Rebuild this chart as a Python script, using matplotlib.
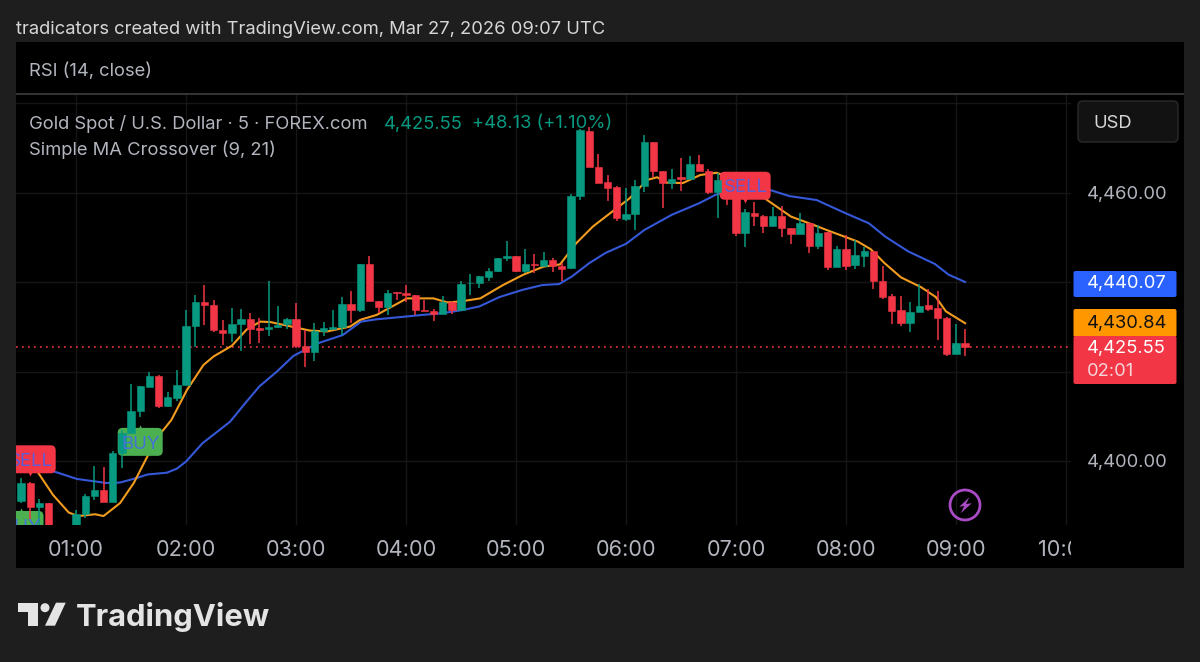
import numpy as np
import matplotlib
matplotlib.use("Agg")
import matplotlib.pyplot as plt
from matplotlib.patches import FancyBboxPatch, Rectangle, Circle, Polygon

plt.rcParams['font.family'] = ['Inter', 'DejaVu Sans']

# Candles, 5 minute bars from 00:30 to 09:05 (one row per hour)
opens = [4391.0, 4395.1, 4389.8, 4390.6, 4384.5, 4381.5,
         4384.0, 4388.2, 4392.1, 4393.6, 4390.9, 4401.8, 4406.3, 4411.1, 4416.6, 4419.1, 4412.4, 4414.2,
         4417.0, 4430.3, 4435.6, 4434.9, 4429.4, 4428.6, 4430.6, 4431.7, 4429.7, 4429.6, 4430.0, 4430.6,
         4431.8, 4425.8, 4424.5, 4429.1, 4429.5, 4430.1, 4435.1, 4433.7, 4444.1, 4435.8, 4434.4, 4437.8,
         4437.6, 4437.2, 4433.9, 4433.6, 4432.9, 4435.5, 4433.8, 4439.8, 4439.8, 4441.1, 4442.5, 4445.5,
         4445.9, 4442.6, 4444.1, 4443.7, 4444.9, 4443.7, 4443.2, 4459.2, 4473.9, 4465.8, 4462.4, 4461.4,
         4454.2, 4455.3, 4461.6, 4471.4, 4465.0, 4462.2, 4463.5, 4463.1, 4466.4, 4464.9, 4460.3, 4462.7,
         4459.1, 4451.1, 4455.6, 4454.9, 4452.5, 4454.9, 4452.2, 4450.7, 4453.2, 4448.2, 4451.2, 4443.4,
         4447.5, 4443.8, 4445.9, 4447.0, 4440.3, 4436.9, 4433.7, 4430.9, 4433.4, 4434.9, 4434.2, 4432.0,
         4423.9, 4426.4]
highs = [4396.2, 4395.3, 4391.5, 4390.7, 4385.0, 4385.0,
         4389.1, 4392.7, 4399.0, 4398.6, 4402.3, 4407.0, 4417.3, 4416.7, 4420.0, 4419.2, 4415.4, 4420.4,
         4433.8, 4437.2, 4439.4, 4436.1, 4431.6, 4434.3, 4434.0, 4433.2, 4432.0, 4440.3, 4434.7, 4432.0,
         4435.4, 4429.4, 4430.9, 4431.1, 4433.8, 4436.6, 4438.1, 4444.1, 4445.8, 4435.8, 4438.3, 4437.8,
         4439.5, 4437.2, 4436.1, 4434.0, 4437.0, 4435.8, 4440.3, 4441.8, 4441.4, 4443.2, 4445.5, 4449.3,
         4445.9, 4447.4, 4446.3, 4446.7, 4445.5, 4444.3, 4459.8, 4474.2, 4474.8, 4468.6, 4463.9, 4461.6,
         4461.2, 4462.9, 4473.0, 4471.4, 4465.0, 4465.4, 4467.9, 4468.3, 4468.5, 4465.3, 4464.5, 4464.7,
         4459.5, 4456.4, 4457.9, 4455.1, 4456.9, 4457.1, 4452.2, 4455.6, 4453.2, 4452.8, 4451.3, 4448.1,
         4450.6, 4449.5, 4448.0, 4447.1, 4443.6, 4437.4, 4437.0, 4435.6, 4439.6, 4438.5, 4438.1, 4432.3,
         4430.7, 4429.5]
lows = [4390.6, 4386.9, 4385.7, 4384.0, 4380.5, 4380.0,
        4383.5, 4387.3, 4391.3, 4390.9, 4390.9, 4398.4, 4406.3, 4409.8, 4416.6, 4411.8, 4412.1, 4413.5,
        4417.0, 4425.5, 4430.5, 4428.8, 4426.0, 4426.7, 4424.7, 4426.2, 4426.5, 4428.0, 4429.8, 4429.5,
        4425.3, 4421.0, 4422.4, 4428.0, 4429.5, 4428.2, 4430.9, 4433.4, 4435.8, 4433.2, 4432.6, 4436.1,
        4435.6, 4432.7, 4433.5, 4431.4, 4432.9, 4433.0, 4433.8, 4437.1, 4438.7, 4440.3, 4442.4, 4444.7,
        4442.2, 4442.0, 4442.0, 4443.7, 4442.4, 4440.3, 4443.0, 4458.4, 4465.7, 4462.3, 4458.2, 4453.6,
        4453.8, 4451.7, 4460.1, 4463.6, 4456.7, 4460.9, 4460.5, 4463.1, 4464.8, 4459.8, 4454.3, 4457.3,
        4450.4, 4447.8, 4452.5, 4451.1, 4452.5, 4450.1, 4448.5, 4450.7, 4446.6, 4447.4, 4442.8, 4443.4,
        4442.8, 4443.0, 4443.5, 4438.6, 4436.2, 4430.6, 4430.2, 4428.8, 4433.4, 4433.6, 4427.1, 4423.6,
        4423.9, 4423.6]
closes = [4395.1, 4389.8, 4390.6, 4384.6, 4381.5, 4384.0,
          4388.1, 4392.2, 4393.6, 4390.9, 4401.9, 4406.3, 4411.2, 4416.7, 4419.1, 4412.4, 4414.3, 4417.0,
          4430.3, 4435.6, 4434.9, 4429.4, 4428.6, 4430.6, 4431.7, 4429.6, 4429.4, 4430.0, 4430.5, 4431.8,
          4425.8, 4424.5, 4429.1, 4429.7, 4430.1, 4435.1, 4433.7, 4444.1, 4435.8, 4434.4, 4437.7, 4437.6,
          4437.2, 4433.8, 4433.6, 4432.9, 4435.5, 4433.8, 4439.6, 4439.9, 4441.3, 4442.6, 4445.5, 4445.9,
          4442.6, 4444.1, 4443.8, 4445.0, 4443.7, 4443.0, 4459.2, 4474.0, 4465.7, 4462.3, 4461.2, 4454.3,
          4455.3, 4461.6, 4471.4, 4465.0, 4462.3, 4463.2, 4463.1, 4466.4, 4464.8, 4460.3, 4462.9, 4459.1,
          4451.0, 4455.7, 4454.9, 4452.5, 4454.9, 4452.1, 4450.7, 4453.2, 4448.2, 4451.1, 4443.4, 4447.5,
          4443.7, 4446.0, 4447.0, 4440.3, 4436.8, 4433.6, 4430.9, 4433.4, 4434.8, 4434.1, 4431.9, 4423.9,
          4426.4, 4425.55]
bar_index = np.arange(6, 110)  # bars since 00:00

# Moving averages (bar number, price)
ma21_bars = [7.5, 9.7, 12.1, 15.3, 16.8, 18.6, 19.8, 21.9, 23, 24, 25.8, 28.8, 30.6, 32, 33.9, 35.7, 36.8,
             38.6, 41.1, 43.1, 44.7, 47.3, 49.8, 52, 54.2, 56, 58.2, 60.7, 62.9, 64.7, 66.1, 68, 69.8, 72,
             74, 77, 80, 81.8, 84.9, 87.8, 89.8, 92.8, 95.9, 98.5, 100.3, 102.8, 105.7, 107.2, 109]
ma21 = [4398.8, 4397.6, 4396.0, 4395.1, 4395.2, 4396.2, 4397.0, 4397.4, 4398.3, 4399.9, 4404.0, 4408.8,
        4413.3, 4416.7, 4420.0, 4423.5, 4424.7, 4426.5, 4428.2, 4431.2, 4431.7, 4432.2, 4432.7, 4433.1,
        4433.8, 4434.6, 4436.7, 4438.3, 4439.4, 4439.6, 4441.3, 4444.3, 4446.6, 4448.6, 4451.7, 4455.1,
        4457.7, 4459.6, 4461.1, 4460.6, 4459.3, 4458.4, 4455.5, 4453.2, 4450.2, 4446.9, 4444.1, 4441.7,
        4440.07]
ma9_bars = [7.9, 9.5, 11.2, 12.2, 14.1, 15, 16.8, 18.3, 19.7, 20.8, 22.4, 24.1, 25.9, 27, 29, 30.6, 32.1,
            33.2, 35.7, 37.5, 39.4, 41.9, 43, 44.8, 48.1, 51, 52.5, 53.9, 56.1, 58.6, 60.8, 63, 64.8, 66.6,
            68.4, 70.3, 72.4, 74.3, 75.4, 76.4, 78.2, 80.1, 81.9, 85, 87.4, 90, 92.5, 94.4, 97.3, 98.7,
            100.2, 102, 104.2, 105.8, 106.9, 109]
ma9 = [4397.3, 4392.4, 4388.5, 4387.7, 4388.1, 4387.7, 4390.6, 4395.1, 4400.7, 4405.1, 4409.2, 4415.9,
       4421.5, 4423.4, 4425.8, 4429.4, 4431.2, 4431.1, 4430.0, 4429.2, 4429.0, 4430.1, 4431.6, 4432.7,
       4436.4, 4436.4, 4435.5, 4435.7, 4436.4, 4439.4, 4441.7, 4443.5, 4444.0, 4448.8, 4452.5, 4455.5,
       4458.8, 4462.9, 4463.5, 4462.3, 4462.2, 4464.0, 4464.5, 4462.2, 4458.4, 4454.7, 4452.8, 4451.3,
       4449.1, 4447.4, 4444.3, 4441.1, 4438.9, 4436.7, 4433.5, 4430.84]

# Signal tags
signal_bars = [7, 85, 19, 6]
signal_prices = [4400.4, 4461.6, 4404.3, 4385.7]
signal_labels = ['SELL', 'SELL', 'BUY', 'BUY']

hour_ticks = list(range(12, 121, 12))
hour_labels = ['01:00', '02:00', '03:00', '04:00', '05:00', '06:00', '07:00', '08:00', '09:00', '10:00']
price_ticks = [4400, 4420, 4440, 4460, 4480]
price_labels = ['4,400.00', '', '', '4,460.00', '']

GREEN = '#089981'
RED = '#f23645'
BLUE = '#2962ff'
ORANGE = '#ff9800'
BG = '#1e1e1e'
GRID = '#151515'
TXT = '#b2b5be'
FS = 13.25

W, H = 1200, 662
fig = plt.figure(figsize=(12, 6.62), dpi=100, facecolor=BG)


def box(x0, y0, x1, y1):
    return [x0 / W, 1 - y1 / H, (x1 - x0) / W, (y1 - y0) / H]


# black panel, pixel coordinates, also used for the header texts
bg = fig.add_axes([0, 0, 1, 1], zorder=0)
bg.set_xlim(0, W)
bg.set_ylim(H, 0)
bg.axis('off')
bg.add_patch(Rectangle((16, 42), 1168, 526, fc='black', ec='none'))
bg.add_patch(Rectangle((16, 93.2), 1168, 1.4, fc='#333333', ec='none'))

# main chart
ax = fig.add_axes(box(16, 95, 1071, 525), zorder=1, facecolor='black')
ax.set_xlim(5.45, 120.55)
ax.set_ylim(4385.7, 4481.9)
for s in ax.spines.values():
    s.set_visible(False)
ax.set_xticks(hour_ticks)
ax.set_xticklabels(hour_labels, fontsize=15.6, color=TXT)
ax.set_yticks(price_ticks)
ax.set_yticklabels([])
ax.tick_params(length=0, pad=11)
ax.grid(True, color=GRID, lw=1, zorder=0)
ax.set_axisbelow(True)

ax.axhline(closes[-1], color=RED, lw=1.2, ls=(0, (1, 2.6)), zorder=1.5)
ax.plot(ma21_bars, ma21, color='#3558d8', lw=1.5, zorder=2)
ax.plot(ma9_bars, ma9, color='#f29c1f', lw=1.5, zorder=2.1)

# tags sit under the candles, their text above
for b, p, lab in zip(signal_bars, signal_prices, signal_labels):
    col = RED if lab == 'SELL' else '#4caf50'
    tcol = '#5a5cd8' if lab == 'SELL' else '#4672d8'
    tag_w = 51 if lab == 'SELL' else 45
    cx, cy = ax.transData.transform((b, p))
    tag = FancyBboxPatch((cx - tag_w / 2, cy - 14), tag_w, 28, boxstyle='round,pad=0,rounding_size=5',
                         fc=col, ec='none', transform=None, zorder=3)
    ax.add_patch(tag)
    tag.set_clip_path(ax.patch)
    if lab == 'SELL':
        ax.plot(b, p - 3.1, marker='v', ms=5, color=col, mec='none', zorder=3, clip_on=True)
    else:
        ax.plot(b, p + 3.2, marker='^', ms=5, color=col, mec='none', zorder=3, clip_on=True)
    ax.text(b + 0.1, p - 0.5, lab, fontsize=13.4, color=tcol, ha='center', va='center', zorder=5, clip_on=True)

colors = [GREEN if c >= o else RED for o, c in zip(opens, closes)]
ax.vlines(bar_index, lows, highs, colors=colors, lw=1.1, zorder=4)
ax.bar(bar_index, np.array(closes) - np.array(opens), bottom=opens, width=0.8, color=colors,
       edgecolor=colors, lw=0.4, zorder=4)

# price scale on the right, same limits as the chart
ax_r = fig.add_axes(box(1071, 95, 1184, 525), zorder=2, facecolor='black')
ax_r.set_xlim(0, 113)
ax_r.set_ylim(ax.get_ylim())
for s in ax_r.spines.values():
    s.set_visible(False)
ax_r.set_xticks([])
ax_r.set_yticks([])
for p, lab in zip(price_ticks, price_labels):
    if lab:
        ax_r.text(16, p - 0.4, lab, fontsize=FS, color=TXT, va='center', ha='left')

# strip below the price scale covers the end of the last time label
top = fig.add_axes([0, 0, 1, 1], zorder=3)
top.set_xlim(0, W)
top.set_ylim(H, 0)
top.axis('off')
top.patch.set_alpha(0)
top.add_patch(Rectangle((1071, 525), 113, 43, fc='black', ec='none'))
top.add_patch(Rectangle((1184, 42), 16, 526, fc=BG, ec='none'))

# texts
top.text(16, 29.5, 'tradicators created with TradingView.com, Mar 27, 2026 09:07 UTC', fontsize=FS,
         color='#d6d6d6', va='center')
top.text(29, 71, 'RSI (14, close)', fontsize=FS, color=TXT, va='center')
top.text(29, 124, 'Gold Spot / U.S. Dollar · 5 · FOREX.com', fontsize=FS, color=TXT, va='center')
top.text(384, 124, '4,425.55', fontsize=FS, color=GREEN, va='center')
top.text(472, 124, '+48.13 (+1.10%)', fontsize=FS, color=GREEN, va='center')
top.text(29, 150, 'Simple MA Crossover (9, 21)', fontsize=FS, color=TXT, va='center')

# USD box
top.add_patch(FancyBboxPatch((1078, 101), 100, 41, boxstyle='round,pad=0,rounding_size=5',
                             fc='#121212', ec='#2b2b2b', lw=1))
top.text(1093, 123, 'USD', fontsize=FS, color='#d6d6d6', va='center')


def price_y(p):
    return 193 + (4460 - p) * 4.47


# last value tags
top.add_patch(FancyBboxPatch((1073.5, 271), 103, 26, boxstyle='round,pad=0,rounding_size=2', fc=BLUE, ec='none'))
top.text(1087, price_y(ma21[-1]) + 1.5, f'{ma21[-1]:,.2f}', fontsize=FS, color='white', va='center')
top.add_patch(FancyBboxPatch((1073.5, 309), 103, 28, boxstyle='round,pad=0,rounding_size=2', fc=ORANGE, ec='none'))
top.text(1087, 323.5, f'{ma9[-1]:,.2f}', fontsize=FS, color='#111111', va='center')
top.add_patch(FancyBboxPatch((1073.5, 336), 103, 48, boxstyle='round,pad=0,rounding_size=2', fc=RED, ec='none'))
top.text(1087, price_y(closes[-1]) + 1.5, f'{closes[-1]:,.2f}', fontsize=FS, color='white', va='center')
top.text(1087, 371, '02:01', fontsize=FS, color='#f5d5d8', va='center')

# lightning icon
top.add_patch(Circle((965, 505), 15, fc='none', ec='#a84bc4', lw=2))
top.add_patch(Polygon([(969.3, 497.3), (959.3, 506.7), (964.3, 506), (960.7, 513.3), (971.7, 503.3), (966, 504)],
                      fc='#a84bc4', ec='none'))

# TradingView logo
LOGO = '#e4e4e4'
top.add_patch(Polygon([(18.3, 602.7), (37.7, 602.7), (37.7, 625.7), (28.3, 625.7), (28.3, 611.7), (18.3, 611.7)],
                      fc=LOGO, ec='none'))
top.add_patch(Circle((45, 607.7), 4.5, fc=LOGO, ec='none'))
top.add_patch(Polygon([(56, 602.7), (65.7, 602.7), (55, 625.7), (45, 625.7)], fc=LOGO, ec='none'))
top.text(75.5, 616.5, 'TradingView', fontsize=22.3, color=LOGO, va='center', fontweight='bold')

fig.savefig('out.png', dpi=100, facecolor=BG)
